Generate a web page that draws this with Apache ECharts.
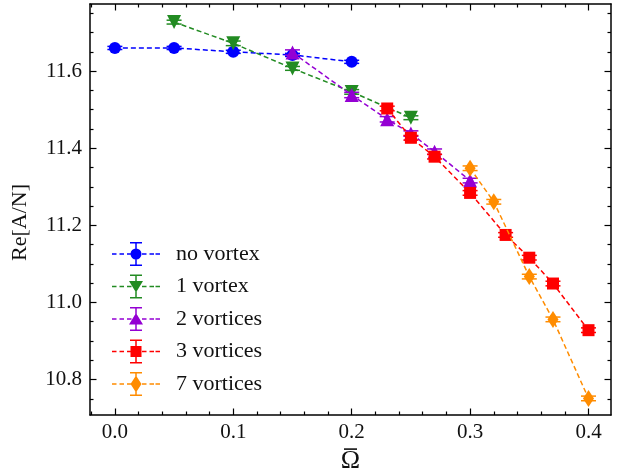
<!DOCTYPE html>
<html>
<head>
<meta charset="utf-8">
<script src="https://cdn.jsdelivr.net/npm/echarts@6/dist/echarts.min.js"></script>
<style>
  html, body { margin: 0; padding: 0; background: #fff; }
  #chart { width: 630px; height: 475px; }
</style>
</head>
<body>
<div id="chart"></div>
<script>
// Re[A/N] against rotation frequency, one series per vortex configuration.
const seriesNames = ['no vortex', '1 vortex', '2 vortices', '3 vortices', '7 vortices'];

const omegaNone = [0.0, 0.05, 0.10, 0.15, 0.20];
const reNone    = [11.660, 11.660, 11.650, 11.642, 11.624];
const errNone   = [0.004, 0.004, 0.004, 0.004, 0.004];

const omegaOne = [0.05, 0.10, 0.15, 0.20, 0.25];
const reOne    = [11.727, 11.672, 11.607, 11.546, 11.479];
const errOne   = [0.005, 0.006, 0.005, 0.006, 0.005];

const omegaTwo = [0.15, 0.20, 0.23, 0.25, 0.27, 0.30];
const reTwo    = [11.648, 11.538, 11.475, 11.438, 11.391, 11.316];
const errTwo   = [0.007, 0.007, 0.007, 0.007, 0.007, 0.006];

const omegaThree = [0.23, 0.25, 0.27, 0.30, 0.33, 0.35, 0.37, 0.40];
const reThree    = [11.503, 11.427, 11.378, 11.284, 11.175, 11.116, 11.049, 10.928];
const errThree   = [0.006, 0.006, 0.006, 0.006, 0.006, 0.006, 0.006, 0.006];

const omegaSeven = [0.30, 0.32, 0.35, 0.37, 0.40];
const reSeven    = [11.348, 11.261, 11.067, 10.956, 10.751];
const errSeven   = [0.006, 0.006, 0.006, 0.006, 0.006];

// Axis ranges and tick positions
const xRange = [-0.021, 0.419];
const yRange = [10.708, 11.774];
const xMajorTicks = [0.0, 0.1, 0.2, 0.3, 0.4];
const xMinorTicks = [-0.02, 0.02, 0.04, 0.06, 0.08, 0.12, 0.14, 0.16, 0.18, 0.22, 0.24, 0.26, 0.28, 0.32, 0.34, 0.36, 0.38];
const yMajorTicks = [10.8, 11.0, 11.2, 11.4, 11.6];
const yMinorTicks = [10.75, 10.85, 10.9, 10.95, 11.05, 11.1, 11.15, 11.25, 11.3, 11.35, 11.45, 11.5, 11.55, 11.65, 11.7, 11.75];

const colors = ['#0000ff', '#228b22', '#9400d3', '#ff0000', '#ff8c00'];
const FONT = 'Liberation Serif';
const INK = '#111';

const groups = [
  { x: omegaNone,  y: reNone,  e: errNone,  symbol: 'circle', size: 12 },
  { x: omegaOne,   y: reOne,   e: errOne,   symbol: 'triangle', size: 14, rotate: 180 },
  { x: omegaTwo,   y: reTwo,   e: errTwo,   symbol: 'triangle', size: 14 },
  { x: omegaThree, y: reThree, e: errThree, symbol: 'rect', size: 12 },
  { x: omegaSeven, y: reSeven, e: errSeven, symbol: 'diamond', size: [11, 17] }
];

// Legend glyph: dashed line, capped vertical error bar and the series marker (48 x 24 box).
function rect(x0, y0, x1, y1) {
  return 'M' + x0 + ' ' + y0 + ' L' + x1 + ' ' + y0 + ' L' + x1 + ' ' + y1 + ' L' + x0 + ' ' + y1 + ' Z ';
}
function legendPath(kind) {
  let p = '';
  [0, 7.5, 15, 30, 37.5].forEach(function (s) { p += rect(s, 11.25, s + 4.5, 12.75); });
  p += rect(43.5, 11.25, 48, 12.75);
  p += rect(23.25, 0, 24.75, 24);
  p += rect(18, 0, 30, 1.5);
  p += rect(18, 22.5, 30, 24);
  if (kind === 'circle') {
    p += 'M29.5 12 A5.5 5.5 0 1 1 18.5 12 A5.5 5.5 0 1 1 29.5 12 Z';
  } else if (kind === 'down') {
    p += 'M17 6.5 L31 6.5 L24 18 Z';
  } else if (kind === 'up') {
    p += 'M24 6 L31 17.5 L17 17.5 Z';
  } else if (kind === 'square') {
    p += rect(18.5, 6.5, 29.5, 17.5);
  } else {
    p += 'M24 3.5 L29.5 12 L24 20.5 L18.5 12 Z';
  }
  return 'path://' + p;
}
const legendKinds = ['circle', 'down', 'up', 'square', 'diamond'];

const series = [];
groups.forEach(function (g, i) {
  const pts = g.x.map(function (v, k) { return [v, g.y[k]]; });
  const errPts = g.x.map(function (v, k) { return [v, g.y[k], g.e[k]]; });
  series.push({
    name: seriesNames[i] + ' err',
    type: 'custom',
    xAxisIndex: 0, yAxisIndex: 0,
    z: 2 + i * 2,
    silent: true,
    data: errPts,
    renderItem: function (params, api) {
      const x = api.value(0), y = api.value(1), e = api.value(2);
      const top = api.coord([x, y + e]);
      const bot = api.coord([x, y - e]);
      const hw = 7.5;
      const st = { stroke: colors[i], lineWidth: 1.5 };
      return {
        type: 'group',
        children: [
          { type: 'line', shape: { x1: top[0], y1: top[1], x2: bot[0], y2: bot[1] }, style: st },
          { type: 'line', shape: { x1: top[0] - hw, y1: top[1], x2: top[0] + hw, y2: top[1] }, style: st },
          { type: 'line', shape: { x1: bot[0] - hw, y1: bot[1], x2: bot[0] + hw, y2: bot[1] }, style: st }
        ]
      };
    }
  });
  series.push({
    name: seriesNames[i],
    type: 'line',
    xAxisIndex: 0, yAxisIndex: 0,
    z: 3 + i * 2,
    data: pts,
    symbol: g.symbol,
    symbolSize: g.size,
    symbolRotate: g.rotate || 0,
    showAllSymbol: true,
    color: colors[i],
    itemStyle: { color: colors[i], borderWidth: 0 },
    lineStyle: { color: colors[i], width: 1.5, type: [5, 3] },
    emphasis: { disabled: true },
    animation: false
  });
});

const blackLine = { color: '#000', width: 1.5 };
function xAxisDef(gridIndex, position, ticks, len, withLabels) {
  return {
    type: 'value', gridIndex: gridIndex, position: position,
    min: xRange[0], max: xRange[1],
    axisLine: { show: gridIndex === 0, onZero: false, lineStyle: blackLine },
    axisTick: { show: true, inside: true, length: len, customValues: ticks, lineStyle: { color: '#000', width: 1.2 } },
    axisLabel: withLabels ? {
      show: true, customValues: ticks, margin: 7,
      formatter: function (v) { return v.toFixed(1); },
      fontFamily: FONT, fontSize: 21, color: INK
    } : { show: false },
    splitLine: { show: false },
    // Omega with a bar drawn above it
    name: withLabels ? '{bar| }\n{om|\u03A9}' : '',
    nameLocation: 'middle', nameGap: 32,
    nameTextStyle: {
      fontFamily: FONT, fontSize: 26, color: INK, verticalAlign: 'top',
      rich: {
        bar: { width: 13, height: 1.6, lineHeight: 1.6, fontSize: 2, backgroundColor: INK },
        om: { fontFamily: FONT, fontSize: 26, lineHeight: 22, color: INK }
      }
    }
  };
}
function yAxisDef(gridIndex, position, ticks, len, withLabels) {
  return {
    type: 'value', gridIndex: gridIndex, position: position,
    min: yRange[0], max: yRange[1],
    axisLine: { show: gridIndex === 0, onZero: false, lineStyle: blackLine },
    axisTick: { show: true, inside: true, length: len, customValues: ticks, lineStyle: { color: '#000', width: 1.2 } },
    axisLabel: withLabels ? {
      show: true, customValues: ticks, margin: 8,
      formatter: function (v) { return v.toFixed(1); },
      fontFamily: FONT, fontSize: 21, color: INK
    } : { show: false },
    splitLine: { show: false },
    name: withLabels ? 'Re[A/N]' : '',
    nameLocation: 'middle', nameGap: 59, nameRotate: 90,
    nameTextStyle: { fontFamily: FONT, fontSize: 22, color: INK, padding: [0, 26, 0, 0] }
  };
}

const chart = echarts.init(document.getElementById('chart'), null, { renderer: 'canvas' });
chart.setOption({
  animation: false,
  backgroundColor: '#fff',
  grid: [
    { left: 90, top: 4, right: 19, bottom: 60, outerBoundsMode: 'none', containLabel: false },
    { left: 90, top: 4, right: 19, bottom: 60, outerBoundsMode: 'none', containLabel: false }
  ],
  xAxis: [
    xAxisDef(0, 'bottom', xMajorTicks, 6.5, true),
    xAxisDef(0, 'top', xMajorTicks, 6.5, false),
    xAxisDef(1, 'bottom', xMinorTicks, 3.5, false),
    xAxisDef(1, 'top', xMinorTicks, 3.5, false)
  ],
  yAxis: [
    yAxisDef(0, 'left', yMajorTicks, 6.5, true),
    yAxisDef(0, 'right', yMajorTicks, 6.5, false),
    yAxisDef(1, 'left', yMinorTicks, 3.5, false),
    yAxisDef(1, 'right', yMinorTicks, 3.5, false)
  ],
  legend: {
    orient: 'vertical',
    left: 112, top: 242,
    padding: 0,
    itemWidth: 48, itemHeight: 24, itemGap: 8.5,
    selectedMode: false,
    itemStyle: { borderWidth: 0 },
    textStyle: { fontFamily: FONT, fontSize: 22, color: INK, padding: [0, 0, 0, 11] },
    data: seriesNames.map(function (n, i) { return { name: n, icon: legendPath(legendKinds[i]) }; })
  },
  series: series
});
</script>
</body>
</html>
